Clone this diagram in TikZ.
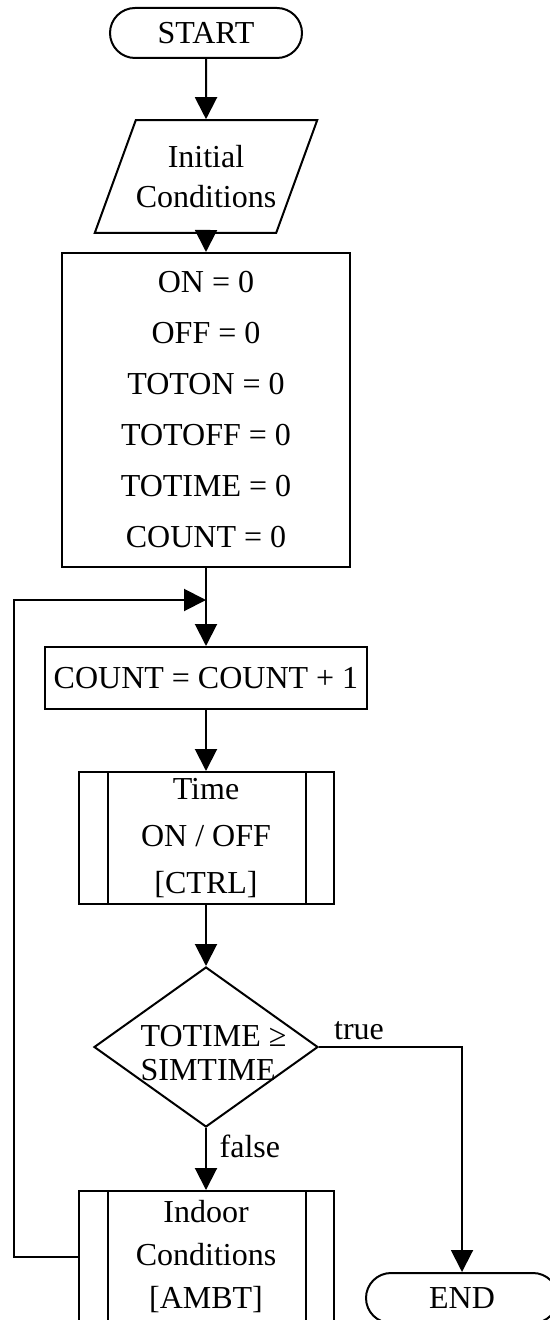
\documentclass[tikz,border=0pt]{standalone}
\usepackage{fontspec}
\setmainfont{Liberation Serif}
\usetikzlibrary{shapes.geometric,shapes.misc,arrows.meta}

\tikzset{
  base/.style={draw, line width=1pt, align=center, inner sep=0pt},
  term/.style={base, rounded rectangle, minimum width=96pt, minimum height=25pt},
  io/.style={base, trapezium, trapezium left angle=70, trapezium right angle=110,
    inner xsep=0pt, inner ysep=12.5pt},
  proc/.style={base, rectangle},
  subr/.style={base, rectangle, minimum width=127.5pt, minimum height=66pt},
  decision/.style={base, diamond, minimum width=112pt, minimum height=80pt},
  arr/.style={line width=1pt, -{Triangle[length=11pt,width=11pt]}},
}

\begin{document}
\begin{tikzpicture}[x=0.5pt, y=-0.5pt, font=\fontsize{16}{20}\selectfont]
  \useasboundingbox (0,0) rectangle (550,1320);
  % start
  \node[term] (start) at (206,33) {START};
  % initial conditions
  \node[io] (init) at (206,176.5) {Initial\\Conditions};
  % counters set to zero
  \node[proc, minimum width=144pt, minimum height=157pt,
    font=\fontsize{16}{25.5}\selectfont] (vars) at (206,410)
    {ON = 0\\OFF = 0\\TOTON = 0\\TOTOFF = 0\\TOTIME = 0\\COUNT = 0};
  \coordinate (join) at (206,600);
  % next step
  \node[proc, minimum width=161pt, minimum height=31pt] (count) at (206,678) {COUNT = COUNT + 1};
  % subroutine CTRL
  \node[subr, font=\fontsize{16}{23.5}\selectfont] (ctrl) at (206,838) {Time\\ON / OFF\\{[CTRL]}};
  % stop test
  \node[decision] (test) at (206,1047) {};
  \node[align=left, inner sep=0pt, font=\fontsize{16}{17}\selectfont] (testtxt) at (213.5,1053) {TOTIME ≥\\SIMTIME};
  % subroutine AMBT
  \node[subr, font=\fontsize{16}{21.5}\selectfont] (ambt) at (206,1257) {Indoor\\Conditions\\{[AMBT]}};
  % end
  \node[term] (stop) at (462,1298) {END};

  % side bars of the subroutines
  \foreach \n in {ctrl,ambt} {
    \draw[line width=1pt] ([xshift=15pt]\n.north west) -- ([xshift=15pt]\n.south west);
    \draw[line width=1pt] ([xshift=-14.5pt]\n.north east) -- ([xshift=-14.5pt]\n.south east);
  }

  % connectors
  \draw[arr] (start) -- (init);
  \draw[arr] (init) -- (vars);
  \draw[arr] (vars) -- (count);
  \draw[arr] (count) -- (ctrl);
  \draw[arr] (ctrl) -- (test);
  \draw[arr] (test) -- node[right, pos=0.3, xshift=3pt] {false} (ambt);
  \draw[arr] (test.east) -| node[above, pos=0.14] {true} (stop);
  \draw[arr] (ambt.west) -- ++(-64,0) |- (join);
\end{tikzpicture}
\end{document}
